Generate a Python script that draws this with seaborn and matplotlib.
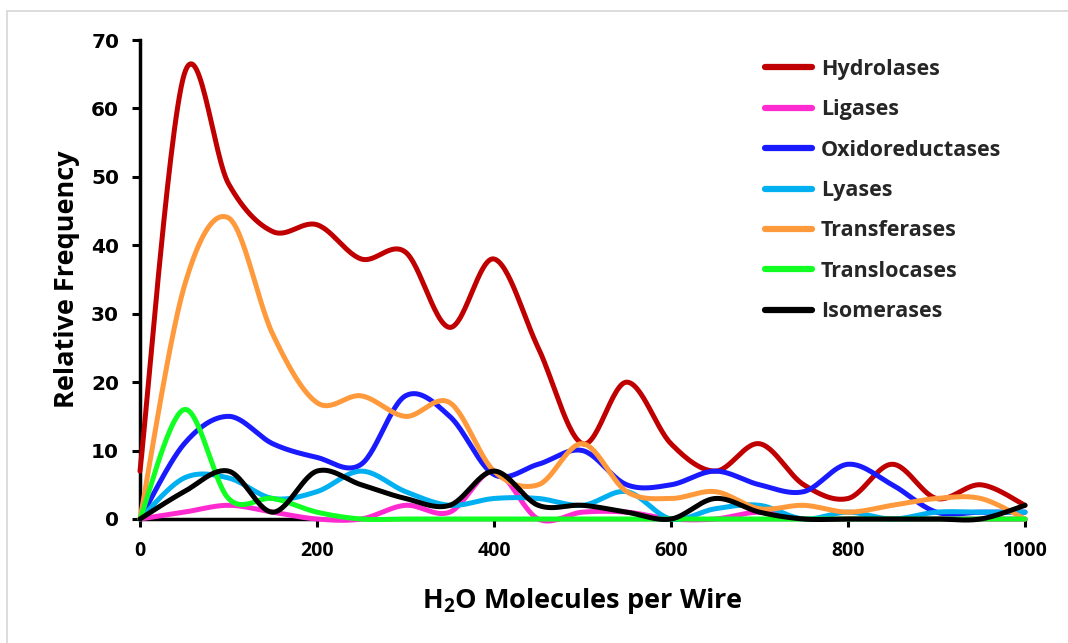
import numpy as np
import pandas as pd
import matplotlib
matplotlib.use("Agg")
import matplotlib.pyplot as plt
from matplotlib.lines import Line2D
import seaborn as sns

# ---------------- data ----------------
x_values = list(range(0, 1001, 50))
series_names = ["Hydrolases", "Ligases", "Oxidoreductases", "Lyases",
                "Transferases", "Translocases", "Isomerases"]
hydrolases      = [7, 65, 49, 42, 43, 38, 39, 28, 38, 25, 11, 20, 11, 7, 11, 5, 3, 8, 3, 5, 2]
ligases         = [0, 1, 2, 1, 0, 0, 2, 1, 7, 0, 1, 1, 0, 0, 1, 0, 0, 0, 0, 0, 0]
oxidoreductases = [0, 11, 15, 11, 9, 8, 18, 15, 6.5, 8, 10, 5, 5, 7, 5, 4, 8, 5, 1, 1, 1]
lyases          = [0, 6, 6, 3, 4, 7, 4, 2, 3, 3, 2, 4, 0, 1.5, 2, 0, 1, 0, 1, 1, 1]
transferases    = [0, 34, 44, 27, 17, 18, 15, 17, 7, 5, 11, 4, 3, 4, 1.5, 2, 1, 2, 3, 3, 0]
translocases    = [0, 16, 3, 3, 1, 0, 0, 0, 0, 0, 0, 0, 0, 0, 0, 0, 0, 0, 0, 0, 0]
isomerases      = [0, 4, 7, 1, 7, 5, 3, 2, 7, 2, 2, 1, 0, 3, 1, 0, 0, 0, 0, 0, 2]
colors = ["#C00000", "#FF2BD0", "#1A1AFF", "#00B0F0", "#FF9A3C", "#11FF22", "#000000"]
x_ticks = [0, 200, 400, 600, 800, 1000]
y_ticks = [0, 10, 20, 30, 40, 50, 60, 70]

all_series = [hydrolases, ligases, oxidoreductases, lyases,
              transferases, translocases, isomerases]


def smooth(xs, ys, n=30):
    """Excel-style smoothed line (cubic Bezier, Catmull-Rom control points)."""
    P = np.column_stack([xs, ys]).astype(float)
    Pe = np.vstack([P[0], P, P[-1]])
    out = []
    t = np.linspace(0, 1, n)[:, None]
    for i in range(len(P) - 1):
        p0, p1, p2, p3 = Pe[i], Pe[i + 1], Pe[i + 2], Pe[i + 3]
        c1 = p1 + (p2 - p0) / 6.0
        c2 = p2 - (p3 - p1) / 6.0
        seg = ((1 - t) ** 3) * p1 + 3 * ((1 - t) ** 2) * t * c1 + 3 * (1 - t) * t ** 2 * c2 + t ** 3 * p2
        out.append(seg if i == 0 else seg[1:])
    s = np.vstack(out)
    return s[:, 0], s[:, 1]


frames = []
for name, vals in zip(series_names, all_series):
    sx, sy = smooth(x_values, vals)
    frames.append(pd.DataFrame({"x": sx, "y": sy, "series": name}))
df = pd.concat(frames, ignore_index=True)

# ---------------- style ----------------
FONT = "Open Sans"
sns.set_theme(style="white")
plt.rcParams["font.family"] = [FONT, "DejaVu Sans"]
plt.rcParams["mathtext.fontset"] = "custom"
plt.rcParams["mathtext.rm"] = FONT + ":bold"
plt.rcParams["mathtext.bf"] = FONT + ":bold"

fig = plt.figure(figsize=(10.68, 6.43), dpi=100)
ax = fig.add_axes([140 / 1068, 1 - 519 / 643, (1025 - 140) / 1068, (519 - 40) / 643])

for i, (name, col) in enumerate(zip(series_names, colors)):
    sub = df[df["series"] == name]
    sns.lineplot(data=sub, x="x", y="y", ax=ax, color=col, linewidth=3.6,
                 sort=False, estimator=None, legend=False,
                 solid_capstyle="round", solid_joinstyle="round",
                 clip_on=False, zorder=3 + i)

ax.set_xlim(0, 1000)
ax.set_ylim(0, 70)
ax.set_xticks(x_ticks)
ax.set_yticks(y_ticks)
ax.set_xticklabels([str(v) for v in x_ticks], fontfamily=FONT, fontweight="bold", fontsize=14)
ax.set_yticklabels([str(v) for v in y_ticks], fontfamily="DejaVu Sans", fontweight="bold", fontsize=14.5)
ax.tick_params(axis="both", which="major", direction="out", length=6, width=2.2,
               color="black", labelcolor="black")
ax.tick_params(axis="y", pad=9, left=True)
ax.tick_params(axis="x", pad=10, bottom=True)

for s in ["top", "right"]:
    ax.spines[s].set_visible(False)
for s in ["left", "bottom"]:
    ax.spines[s].set_color("black")
    ax.spines[s].set_linewidth(2.5)
    ax.spines[s].set_zorder(2)

ax.set_xlabel(r"H$_{\mathbf{2}}$O Molecules per Wire", fontsize=19.5, fontweight="bold",
              fontfamily=FONT, labelpad=18, color="black")
ax.set_ylabel("Relative Frequency", fontsize=19.5, fontweight="bold",
              fontfamily=FONT, labelpad=8, color="black")
ax.grid(False)

handles = [Line2D([0], [0], color=c, linewidth=4.5, solid_capstyle="round") for c in colors]
leg = fig.legend(handles, series_names, loc="upper left",
                 bbox_to_anchor=(765 / 1068, 1 - 59 / 643), frameon=False,
                 prop={"family": FONT, "weight": "bold", "size": 15.5},
                 handlelength=2.2, handletextpad=0.4, labelspacing=0.9,
                 borderpad=0, borderaxespad=0)

# light grey frame lines (left and top) of the chart area
fig.add_artist(Line2D([7 / 1068, 7 / 1068], [0, 1 - 11 / 643], transform=fig.transFigure,
                      color="#D9D9D9", linewidth=1.3))
fig.add_artist(Line2D([7 / 1068, 1], [1 - 11 / 643, 1 - 11 / 643], transform=fig.transFigure,
                      color="#D9D9D9", linewidth=1.3))

fig.savefig("out.png", dpi=100)
